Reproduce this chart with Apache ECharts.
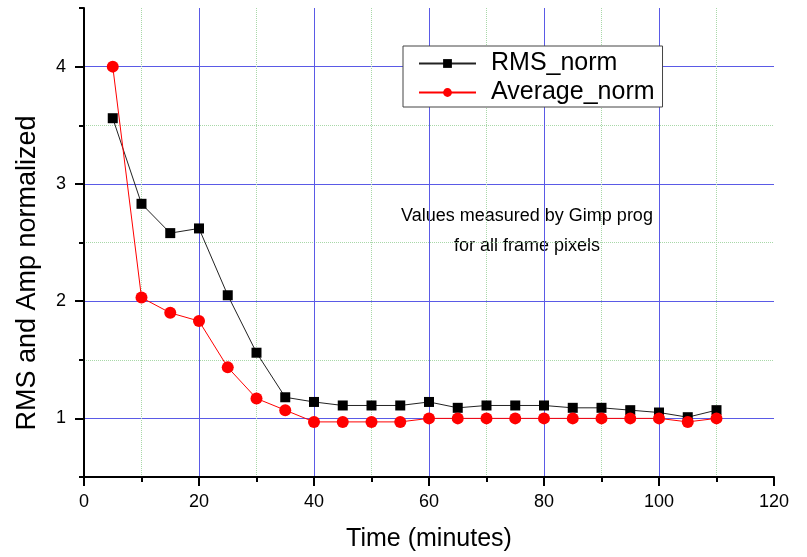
<!DOCTYPE html>
<html>
<head>
<meta charset="utf-8">
<script src="https://cdn.jsdelivr.net/npm/echarts@6/dist/echarts.min.js"></script>
<style>html,body{margin:0;padding:0;background:#fff}#c{width:807px;height:557px}</style>
</head>
<body>
<div id="c"></div>
<script>
var times = [5,10,15,20,25,30,35,40,45,50,55,60,65,70,75,80,85,90,95,100,105,110];
var rmsNorm = [3.56,2.83,2.58,2.62,2.05,1.56,1.18,1.14,1.11,1.11,1.11,1.14,1.09,1.11,1.11,1.11,1.09,1.09,1.07,1.05,1.01,1.07];
var avgNorm = [4.0,2.03,1.90,1.83,1.435,1.17,1.07,0.97,0.97,0.97,0.97,1.0,1.0,1.0,1.0,1.0,1.0,1.0,1.0,1.0,0.97,1.0];
var yTickLabels = [1,2,3,4];
var seriesNames = ['RMS_norm','Average_norm'];
var xTitle = 'Time (minutes)';
var yTitle = 'RMS and Amp normalized';
var noteLines = ['Values measured by Gimp prog','for all frame pixels'];

var FONT = 'Liberation Sans, Arial, sans-serif';
var BLUE = '#5a5ae6';
var GREEN = '#a8d8a8';

function pairs(xs, ys){ return xs.map(function(x,i){ return [x, ys[i]]; }); }

var chart = echarts.init(document.getElementById('c'), null, {renderer:'canvas'});
chart.setOption({
  animation:false,
  backgroundColor:'#fff',
  textStyle:{fontFamily:FONT},
  grid:{left:84, right:33, top:8, bottom:77},
  legend:{
    orient:'vertical', left:403, top:46,
    padding:[5,8,2,15], itemGap:4,
    itemWidth:57, itemHeight:11,
    borderColor:'#444', borderWidth:1, backgroundColor:'#fff',
    textStyle:{fontFamily:FONT, fontSize:25, color:'#000', padding:[0,0,0,10]},
    data:seriesNames
  },
  xAxis:{
    type:'value', min:0, max:120, interval:20,
    name:xTitle, nameLocation:'middle', nameGap:50,
    nameTextStyle:{fontFamily:FONT, fontSize:25, color:'#000'},
    axisLine:{show:true, onZero:false, lineStyle:{color:'#000', width:2}},
    axisTick:{show:true, inside:false, length:9, lineStyle:{color:'#000', width:2}},
    minorTick:{show:true, splitNumber:2, length:5, lineStyle:{color:'#000', width:2}},
    axisLabel:{fontFamily:FONT, fontSize:18, color:'#000', margin:16},
    splitLine:{show:true, showMinLine:false, showMaxLine:false, lineStyle:{color:BLUE, width:1}},
    minorSplitLine:{show:true, lineStyle:{color:GREEN, width:1, type:'dotted'}}
  },
  yAxis:[{
    type:'value', min:0.5, max:4.5, interval:1,
    axisLine:{show:true, onZero:false, lineStyle:{color:'#000', width:2}},
    axisTick:{show:true, inside:false, length:5, lineStyle:{color:'#000', width:2}},
    minorTick:{show:true, splitNumber:2, length:9, lineStyle:{color:'#000', width:2}},
    axisLabel:{show:false},
    splitLine:{show:true, showMinLine:false, showMaxLine:false, lineStyle:{color:GREEN, width:1, type:'dotted'}},
    minorSplitLine:{show:true, lineStyle:{color:BLUE, width:1}}
  },{
    type:'value', min:0.5, max:4.5, interval:0.5, position:'left', offset:0,
    axisLine:{show:false}, axisTick:{show:false}, splitLine:{show:false},
    axisLabel:{fontFamily:FONT, fontSize:18, color:'#000', margin:18,
      formatter:function(v){ return yTickLabels.indexOf(v) >= 0 ? String(v) : ''; }}
  }],
  graphic:[
    {type:'text', rotation:Math.PI/2, x:28, y:273,
      style:{text:yTitle, fontFamily:FONT, fontSize:27, fill:'#000', textAlign:'center', textVerticalAlign:'middle'}},
    {type:'text', x:527, y:231,
      style:{text:noteLines.join('\n'), fontFamily:FONT, fontSize:18, lineHeight:30, fill:'#000', textAlign:'center', textVerticalAlign:'middle'}}
  ],
  series:[
    {name:seriesNames[0], type:'line', data:pairs(times, rmsNorm),
      symbol:'rect', symbolSize:10, showAllSymbol:true,
      itemStyle:{color:'#000'}, lineStyle:{color:'#222', width:1}, z:3},
    {name:seriesNames[1], type:'line', data:pairs(times, avgNorm),
      symbol:'circle', symbolSize:12, showAllSymbol:true,
      itemStyle:{color:'#ff0000'}, lineStyle:{color:'#ff0000', width:1}, z:4}
  ]
});
</script>
</body>
</html>
